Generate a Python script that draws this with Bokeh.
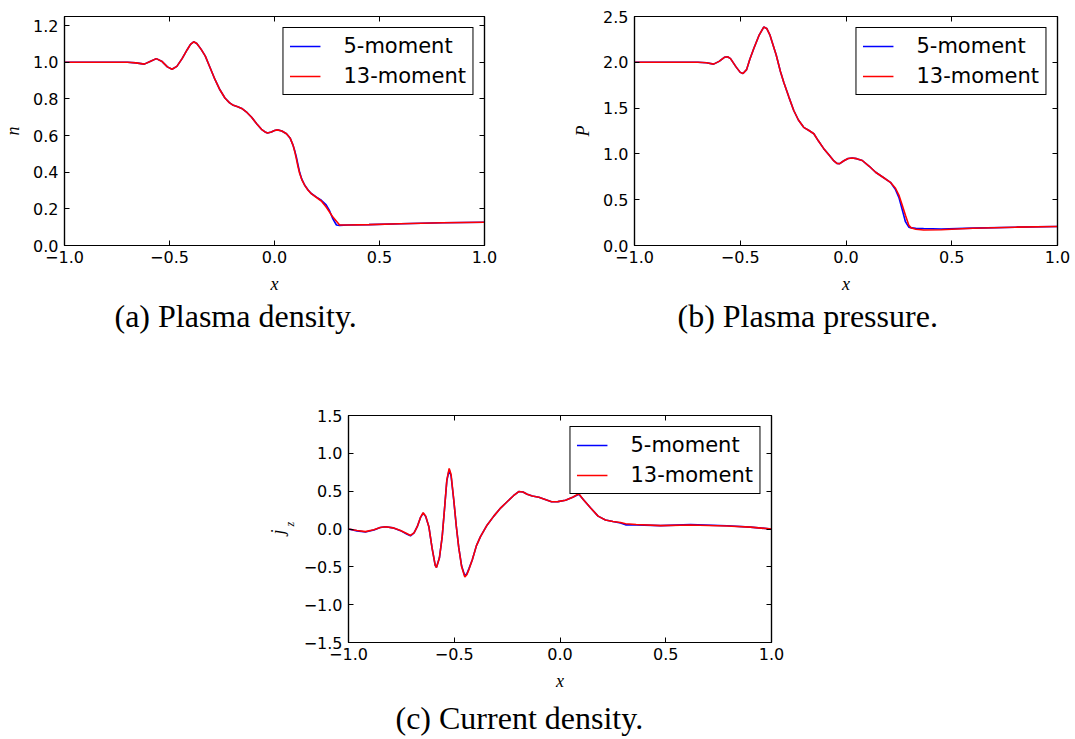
from bokeh.plotting import figure
from bokeh.layouts import column, row, Spacer
from bokeh.models import (FixedTicker, Range1d, LinearAxis, Legend, LegendItem,
                          Title, CustomJSTickFormatter)
from bokeh.embed import file_html
from bokeh.resources import INLINE

# ---- plasma density n(x) ----
n_x = [-1.0, -0.9, -0.8, -0.7, -0.66, -0.62, -0.59, -0.563, -0.535, -0.51,
       -0.488, -0.465, -0.44, -0.415, -0.4, -0.385, -0.37, -0.35, -0.33, -0.31,
       -0.283, -0.26, -0.236, -0.215, -0.196, -0.175, -0.156, -0.13, -0.109, -0.085,
       -0.062, -0.045, -0.033, -0.015, 0.0, 0.014, 0.035, 0.057, 0.075, 0.089,
       0.097, 0.104, 0.112, 0.12, 0.13, 0.144, 0.16, 0.175, 0.2, 0.223,
       0.246, 0.262, 0.278, 0.295, 0.31, 0.35, 0.45, 0.6, 0.8, 1.0]
n_13 = [1.0, 1.0, 1.0, 1.0, 0.997, 0.99, 1.006, 1.02, 1.004, 0.975,
        0.962, 0.978, 1.02, 1.07, 1.098, 1.112, 1.103, 1.072, 1.035, 0.98,
        0.905, 0.85, 0.805, 0.78, 0.765, 0.757, 0.748, 0.725, 0.70, 0.665,
        0.634, 0.62, 0.614, 0.62, 0.628, 0.631, 0.625, 0.61, 0.585, 0.545,
        0.51, 0.474, 0.43, 0.393, 0.36, 0.328, 0.302, 0.283, 0.262, 0.243,
        0.21, 0.183, 0.155, 0.132, 0.112, 0.112, 0.114, 0.119, 0.124, 0.127]
n_5 = [1.0, 1.0, 1.0, 1.0, 0.997, 0.99, 1.006, 1.02, 1.004, 0.975,
       0.962, 0.978, 1.02, 1.07, 1.098, 1.112, 1.103, 1.072, 1.035, 0.98,
       0.905, 0.85, 0.805, 0.78, 0.765, 0.757, 0.748, 0.725, 0.70, 0.665,
       0.634, 0.62, 0.614, 0.62, 0.628, 0.631, 0.625, 0.61, 0.585, 0.545,
       0.515, 0.484, 0.44, 0.398, 0.362, 0.329, 0.303, 0.284, 0.264, 0.247,
       0.222, 0.19, 0.145, 0.112, 0.11, 0.112, 0.114, 0.119, 0.124, 0.127]

# ---- plasma pressure P(x) ----
p_x = [-1.0, -0.9, -0.8, -0.7, -0.66, -0.626, -0.6, -0.575, -0.56, -0.546,
       -0.52, -0.5, -0.487, -0.47, -0.455, -0.436, -0.41, -0.389, -0.375, -0.36,
       -0.349, -0.33, -0.31, -0.294, -0.27, -0.247, -0.225, -0.2, -0.175, -0.152,
       -0.13, -0.106, -0.081, -0.06, -0.043, -0.03, -0.01, 0.01, 0.029, 0.05,
       0.077, 0.11, 0.14, 0.175, 0.21, 0.234, 0.25, 0.266, 0.281, 0.297,
       0.31, 0.33, 0.367, 0.45, 0.6, 0.8, 1.0]
p_13 = [2.0, 2.0, 2.0, 2.0, 1.995, 1.98, 2.01, 2.055, 2.06, 2.04,
        1.95, 1.89, 1.877, 1.92, 2.03, 2.15, 2.3, 2.385, 2.37, 2.3,
        2.22, 2.08, 1.9, 1.78, 1.62, 1.474, 1.37, 1.29, 1.255, 1.22,
        1.14, 1.06, 0.99, 0.93, 0.897, 0.893, 0.925, 0.95, 0.955, 0.948,
        0.928, 0.865, 0.80, 0.745, 0.69, 0.625, 0.55, 0.44, 0.33, 0.22,
        0.19, 0.178, 0.17, 0.172, 0.188, 0.2, 0.207]
p_5 = [2.0, 2.0, 2.0, 2.0, 1.995, 1.98, 2.01, 2.055, 2.06, 2.04,
       1.95, 1.89, 1.877, 1.92, 2.03, 2.15, 2.3, 2.385, 2.37, 2.3,
       2.22, 2.08, 1.9, 1.78, 1.62, 1.474, 1.37, 1.29, 1.255, 1.22,
       1.14, 1.06, 0.99, 0.93, 0.897, 0.893, 0.925, 0.95, 0.955, 0.948,
       0.928, 0.865, 0.80, 0.745, 0.69, 0.61, 0.525, 0.39, 0.26, 0.2,
       0.192, 0.188, 0.185, 0.18, 0.19, 0.2, 0.207]

# ---- current density j_z(x) ----
j_x = [-1.0, -0.96, -0.92, -0.88, -0.85, -0.825, -0.79, -0.754, -0.725, -0.707,
       -0.69, -0.675, -0.66, -0.647, -0.635, -0.62, -0.605, -0.59, -0.584, -0.57,
       -0.557, -0.545, -0.535, -0.524, -0.515, -0.502, -0.49, -0.479, -0.465, -0.45,
       -0.44, -0.43, -0.415, -0.395, -0.376, -0.345, -0.313, -0.28, -0.25, -0.22,
       -0.195, -0.175, -0.155, -0.131, -0.1, -0.07, -0.04, -0.01, 0.026, 0.06,
       0.089, 0.11, 0.144, 0.18, 0.215, 0.25, 0.286, 0.31, 0.36, 0.475,
       0.617, 0.79, 0.9, 1.0]
j_13 = [0.0, -0.02, -0.035, -0.01, 0.02, 0.03, 0.015, -0.02, -0.06, -0.085,
        -0.05, 0.03, 0.15, 0.215, 0.17, 0.03, -0.25, -0.48, -0.51, -0.38,
        -0.1, 0.3, 0.65, 0.80, 0.72, 0.38, 0.03, -0.24, -0.5, -0.635,
        -0.6, -0.53, -0.41, -0.22, -0.1, 0.05, 0.17, 0.28, 0.36, 0.44,
        0.495, 0.49, 0.46, 0.435, 0.42, 0.39, 0.36, 0.362, 0.38, 0.42,
        0.465, 0.39, 0.28, 0.17, 0.12, 0.1, 0.085, 0.07, 0.06, 0.044,
        0.053, 0.04, 0.025, 0.0]
j_5 = [0.0, -0.025, -0.04, -0.012, 0.02, 0.03, 0.015, -0.022, -0.065, -0.09,
       -0.052, 0.03, 0.15, 0.21, 0.165, 0.03, -0.25, -0.48, -0.505, -0.38,
       -0.1, 0.3, 0.64, 0.78, 0.70, 0.37, 0.03, -0.24, -0.49, -0.62,
       -0.59, -0.52, -0.41, -0.22, -0.1, 0.05, 0.17, 0.28, 0.36, 0.44,
       0.495, 0.49, 0.46, 0.435, 0.42, 0.39, 0.36, 0.362, 0.38, 0.42,
       0.46, 0.39, 0.28, 0.17, 0.12, 0.1, 0.08, 0.055, 0.055, 0.045,
       0.058, 0.042, 0.025, 0.0]

x_ticks = [-1.0, -0.5, 0.0, 0.5, 1.0]
series_labels = ["5-moment", "13-moment"]
captions = ["(a) Plasma density.", "(b) Plasma pressure.", "(c) Current density."]

TICK_FONT = "DejaVu Sans"
SERIF = "Liberation Serif"

fmt = CustomJSTickFormatter(
    code="return (tick < -1e-9 ? '\\u2212' : '') + Math.abs(tick).toFixed(1);")
blank_fmt = CustomJSTickFormatter(code="return '';")


def style_axis(ax, ticks, labels=True):
    ax.ticker = FixedTicker(ticks=ticks)
    ax.major_tick_in = 5
    ax.major_tick_out = 0
    ax.minor_tick_in = 0
    ax.minor_tick_out = 0
    ax.axis_line_color = "black"
    ax.axis_line_width = 1.2
    ax.major_tick_line_color = "black"
    ax.major_tick_line_width = 1.0
    ax.major_label_text_font = TICK_FONT
    ax.major_label_text_font_size = "16px"
    ax.major_label_text_color = "black"
    ax.axis_label_text_font = SERIF
    ax.axis_label_text_font_style = "italic"
    ax.axis_label_text_font_size = "18px"
    ax.axis_label_text_color = "black"
    if labels:
        ax.formatter = fmt
    else:
        ax.formatter = blank_fmt
        ax.major_label_standoff = 0


def panel(xs, y5, y13, yr, yticks, width, height, bl, br, bt, bb,
          ylabel, caption, caption_dx, caption_standoff):
    p = figure(width=width, height=height, output_backend="svg",
               toolbar_location=None, x_range=Range1d(-1.0, 1.0),
               y_range=Range1d(*yr), min_border_left=bl, min_border_right=br,
               min_border_top=bt, min_border_bottom=bb,
               background_fill_color="white", border_fill_color="white")
    p.xgrid.visible = False
    p.ygrid.visible = False
    p.outline_line_color = "black"
    p.outline_line_width = 1.2

    style_axis(p.xaxis[0], x_ticks)
    p.xaxis[0].major_label_standoff = 5
    p.xaxis[0].axis_label = "x"
    p.xaxis[0].axis_label_standoff = 8
    style_axis(p.yaxis[0], yticks)
    p.yaxis[0].major_label_standoff = 6
    if ylabel:
        p.yaxis[0].axis_label = ylabel
        p.yaxis[0].axis_label_standoff = 7

    top = LinearAxis()
    style_axis(top, x_ticks, labels=False)
    p.add_layout(top, "above")
    right = LinearAxis()
    style_axis(right, yticks, labels=False)
    p.add_layout(right, "right")

    r5 = p.line(xs, y5, line_color="#0000ff", line_width=1.6)
    r13 = p.line(xs, y13, line_color="#ff0000", line_width=1.6)

    legend = Legend(items=[LegendItem(label=series_labels[0], renderers=[r5]),
                           LegendItem(label=series_labels[1], renderers=[r13])],
                    location="top_right", margin=11, padding=6, spacing=6,
                    glyph_width=31, glyph_height=22, label_standoff=23,
                    label_text_font=TICK_FONT, label_text_font_size="21px",
                    label_text_color="black",
                    border_line_color="black", border_line_width=1.5,
                    border_line_alpha=1.0,
                    background_fill_color="white", background_fill_alpha=1.0)
    p.add_layout(legend)

    # sub-figure caption under the x-axis label
    p.add_layout(Title(text=caption, align="left", offset=caption_dx,
                       standoff=caption_standoff, text_font=SERIF,
                       text_font_style="normal", text_font_size="32px",
                       text_color="black"), "below")
    return p


pa = panel(n_x, n_5, n_13, (0.0, 1.25), [0.0, 0.2, 0.4, 0.6, 0.8, 1.0, 1.2],
           560, 380, 62, 76, 16, 135, "n", captions[0], 50, -1)
pb = panel(p_x, p_5, p_13, (0.0, 2.5), [0.0, 0.5, 1.0, 1.5, 2.0, 2.5],
           515, 380, 74, 18, 16, 135, "P", captions[1], 43, -1)
pc = panel(j_x, j_5, j_13, (-1.5, 1.5), [-1.5, -1.0, -0.5, 0.0, 0.5, 1.0, 1.5],
           561, 359, 118, 20, 35, 96, None, captions[2], 47, 8)

# j_z label: subscript placed nearer the axis, main symbol outside it
pc.add_layout(Title(text="z", align="left", offset=116, standoff=8,
                    text_font=SERIF, text_font_style="italic",
                    text_font_size="12px", text_color="black"), "left")
pc.add_layout(Title(text="j", align="left", offset=108, standoff=-23,
                    text_font=SERIF, text_font_style="italic",
                    text_font_size="18px", text_color="black"), "left")

layout = column(row(pa, pb), row(Spacer(width=230, height=359), pc))

with open("out.html", "w") as f:
    f.write(file_html(layout, INLINE))
